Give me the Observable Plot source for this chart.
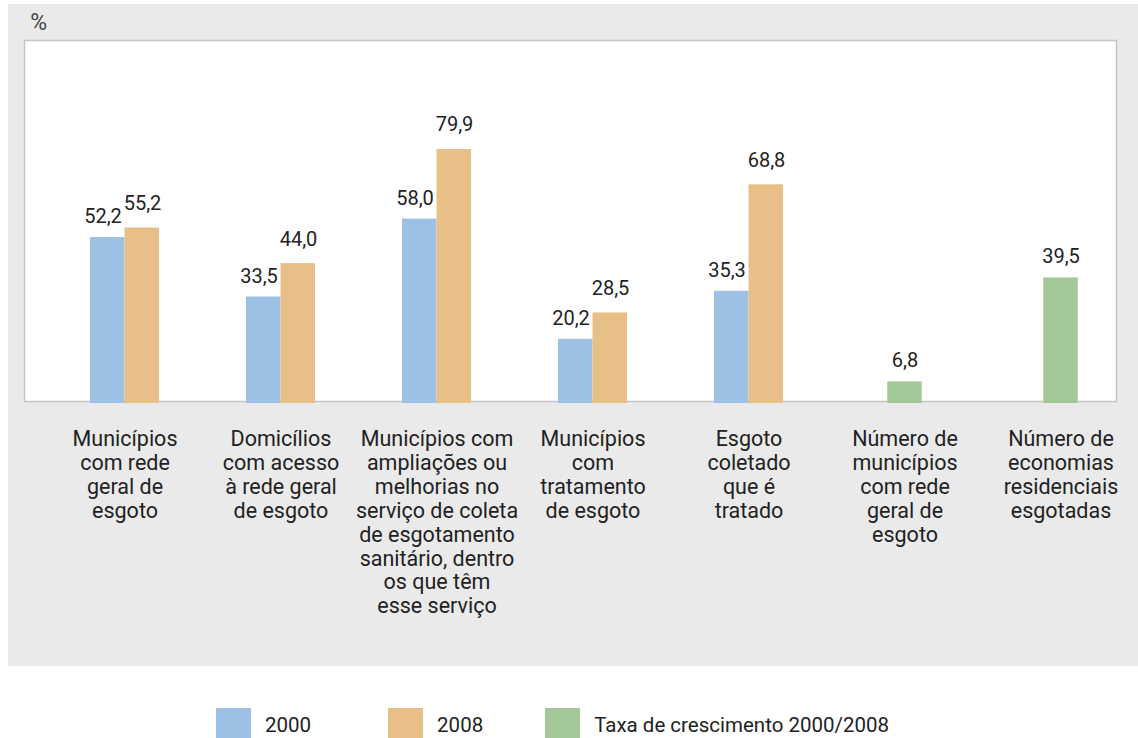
<!DOCTYPE html>
<html>
<head>
<meta charset="utf-8">
<script src="https://cdn.jsdelivr.net/npm/d3@7"></script>
<script src="https://cdn.jsdelivr.net/npm/@observablehq/plot@0.6"></script>
<style>
  html, body { margin: 0; padding: 0; background: #ffffff; width: 1138px; height: 738px; overflow: hidden; }
  #chart { position: absolute; left: 8px; top: 4px; }
  #legend { position: absolute; left: 216px; top: 708px; display: flex; align-items: flex-start;
            font-family: Roboto, sans-serif; font-size: 20.5px; color: #222; }
  .item { display: flex; align-items: center; gap: 14px; }
  .item:nth-child(1) { margin-right: 77px; }
  .item:nth-child(2) { margin-right: 62px; }
  .sw { width: 35px; height: 35px; }
  .lbl { line-height: 35px; margin-top: -1px; }
</style>
</head>
<body>
<div id="chart"></div>
<div id="legend"></div>
<script>
// ---- data ----
const categories = [
  "Municípios\ncom rede\ngeral de\nesgoto",
  "Domicílios\ncom acesso\nà rede geral\nde esgoto",
  "Municípios com\nampliações ou\nmelhorias no\nserviço de coleta\nde esgotamento\nsanitário, dentro\nos que têm\nesse serviço",
  "Municípios\ncom\ntratamento\nde esgoto",
  "Esgoto\ncoletado\nque é\ntratado",
  "Número de\nmunicípios\ncom rede\ngeral de\nesgoto",
  "Número de\neconomias\nresidenciais\nesgotadas"
];
const values2000 = [52.2, 33.5, 58.0, 20.2, 35.3];
const values2008 = [55.2, 44.0, 79.9, 28.5, 68.8];
const growthCategories = [categories[5], categories[6]];
const growthValues = [6.8, 39.5];
const seriesNames = ["2000", "2008", "Taxa de crescimento 2000/2008"];
const seriesColors = ["#9dc1e4", "#e9bf88", "#a3c796"];
const unitLabel = ["%"];

// ---- tables ----
const d2000 = values2000.map((v, i) => ({cat: categories[i], value: v}));
const d2008 = values2008.map((v, i) => ({cat: categories[i], value: v}));
const dGrowth = growthValues.map((v, i) => ({cat: growthCategories[i], value: v}));
const fmt = v => v.toFixed(1).replace(".", ",");

const half = 34.5;
const textFill = "#222";

const chart = Plot.plot({
  width: 1130,
  height: 662,
  marginLeft: 80.2,
  marginRight: 42.4,
  marginTop: 36,
  marginBottom: 263,
  style: {background: "#eaeaea", fontFamily: "Roboto, sans-serif", overflow: "visible"},
  x: {domain: categories, paddingInner: 0.559, paddingOuter: 0, axis: null},
  y: {domain: [0, 114.2], axis: null},
  marks: [
    Plot.frame({fill: "#ffffff", stroke: "#c4c4c4", strokeWidth: 1.5, insetLeft: -64.2, insetRight: -20.4, insetBottom: 2}),
    Plot.barY(d2000, {x: "cat", y: "value", fill: seriesColors[0], insetRight: half}),
    Plot.barY(d2008, {x: "cat", y: "value", fill: seriesColors[1], insetLeft: half}),
    Plot.barY(dGrowth, {x: "cat", y: "value", fill: seriesColors[2], insetLeft: half / 2, insetRight: half / 2}),
    Plot.text(d2000, {x: "cat", y: "value", text: d => fmt(d.value), dx: -22, dy: -20.5, fontSize: 20, fill: textFill}),
    Plot.text(d2008, {x: "cat", y: "value", text: d => fmt(d.value), dx: 17.5, dy: -24.5, fontSize: 20, fill: textFill}),
    Plot.text(dGrowth, {x: "cat", y: "value", text: d => fmt(d.value), dy: -21, fontSize: 20, fill: textFill}),
    Plot.text(categories, {x: d => d, frameAnchor: "bottom", lineAnchor: "top", dy: 25, fontSize: 21.5, lineHeight: 1.116, fill: textFill}),
    Plot.text(unitLabel, {frameAnchor: "top-left", textAnchor: "start", lineAnchor: "middle", dx: -58.5, dy: -17.5, fontSize: 23, fill: "#444"})
  ]
});
document.getElementById("chart").appendChild(chart);

const legend = document.getElementById("legend");
seriesNames.forEach((name, i) => {
  const item = document.createElement("div");
  item.className = "item";
  const sw = document.createElement("div");
  sw.className = "sw";
  sw.style.background = seriesColors[i];
  const lbl = document.createElement("div");
  lbl.className = "lbl";
  lbl.textContent = name;
  item.appendChild(sw);
  item.appendChild(lbl);
  legend.appendChild(item);
});
</script>
</body>
</html>
